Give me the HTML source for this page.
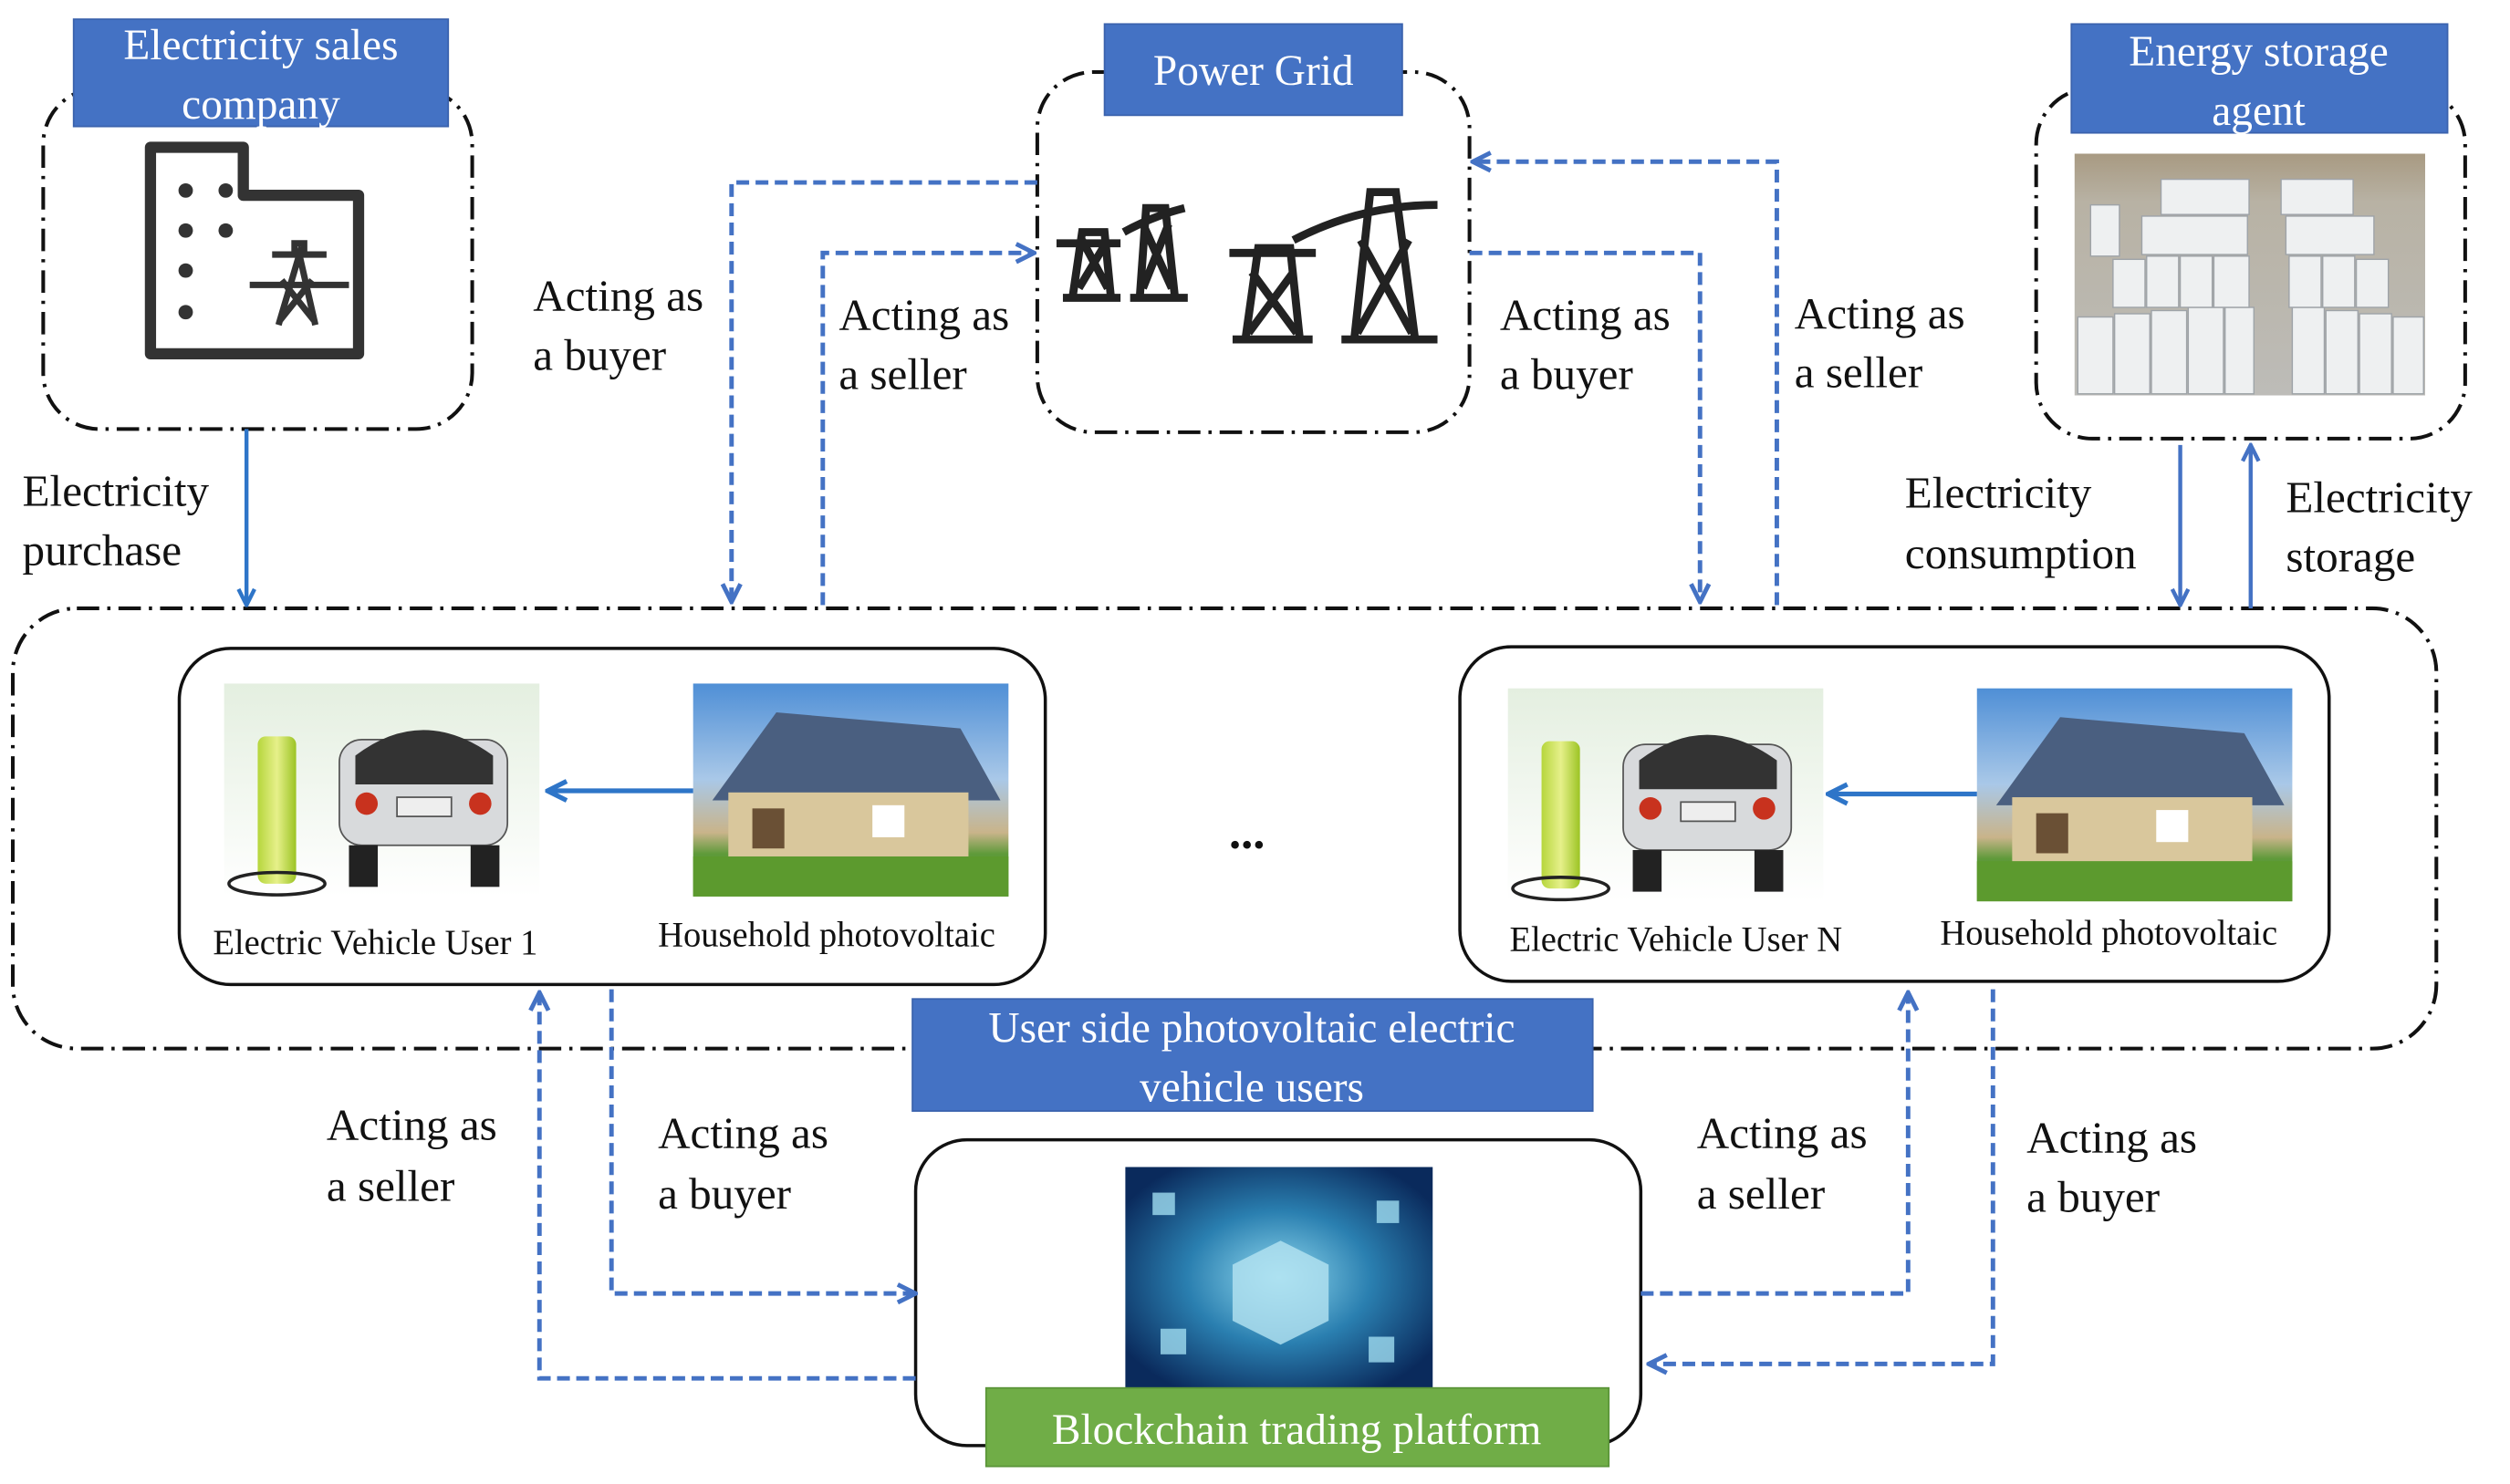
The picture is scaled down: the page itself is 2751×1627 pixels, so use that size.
<!DOCTYPE html>
<html><head><meta charset="utf-8"><style>
html,body{margin:0;padding:0;background:#fff;}
svg{display:block;font-family:"Liberation Serif","Times New Roman",serif;}
svg text{font-family:"Liberation Serif","Times New Roman",serif;}
</style></head><body>
<svg width="2751" height="1627" viewBox="0 0 1568 927" preserveAspectRatio="none" xmlns="http://www.w3.org/2000/svg" font-family="Liberation Serif, serif">
<defs>
<linearGradient id="evbg" x1="0" y1="0" x2="0" y2="1"><stop offset="0" stop-color="#e4efe0"/><stop offset="1" stop-color="#ffffff"/></linearGradient>
<linearGradient id="sky" x1="0" y1="0" x2="0" y2="1"><stop offset="0" stop-color="#4f8fd6"/><stop offset="0.45" stop-color="#a9c8e8"/><stop offset="0.7" stop-color="#c9b48a"/><stop offset="0.8" stop-color="#5f9a3a"/><stop offset="1" stop-color="#4f8f2a"/></linearGradient>
<linearGradient id="bat" x1="0" y1="0" x2="1" y2="0"><stop offset="0" stop-color="#b6d63c"/><stop offset="0.5" stop-color="#e6f08a"/><stop offset="1" stop-color="#9cc424"/></linearGradient>
<linearGradient id="store" x1="0" y1="0" x2="0" y2="1"><stop offset="0" stop-color="#a89a82"/><stop offset="0.2" stop-color="#b8b2a4"/><stop offset="1" stop-color="#bdbcb8"/></linearGradient>
<radialGradient id="bc" cx="0.5" cy="0.5" r="0.6"><stop offset="0" stop-color="#8fd8ee"/><stop offset="0.5" stop-color="#2a7fb0"/><stop offset="1" stop-color="#0a2a5c"/></radialGradient>
<marker id="ah" viewBox="0 0 10 10" refX="9" refY="5" markerWidth="5" markerHeight="5" orient="auto-start-reverse"><path d="M1,1 L9,5 L1,9" fill="none" stroke="#4472c4" stroke-width="2"/></marker>
<marker id="ahs" viewBox="0 0 10 10" refX="9" refY="5" markerWidth="5" markerHeight="5" orient="auto-start-reverse"><path d="M1,1 L9,5 L1,9" fill="none" stroke="#2e75c8" stroke-width="2"/></marker>
</defs>

<g fill="none" stroke="#111" stroke-width="2.3" stroke-dasharray="14 5 2 5">
<rect x="27" y="55" width="268" height="213" rx="35"/>
<rect x="648" y="45" width="270" height="225" rx="35"/>
<rect x="1272" y="55" width="268" height="219" rx="35"/>
<rect x="8" y="380" width="1514" height="275" rx="40"/>
</g>

<g fill="#fff" stroke="#111" stroke-width="2">
<rect x="112" y="405" width="541" height="210" rx="32"/>
<rect x="912" y="404" width="543" height="209" rx="32"/>
<rect x="572" y="712" width="453" height="191" rx="32"/>
</g>

<rect x="46" y="12" width="234" height="67" fill="#4472c4" stroke="#3a62ad"/>
<text x="163" y="37" font-size="27" fill="#fff" text-anchor="middle">Electricity sales</text>
<text x="163" y="74" font-size="27" fill="#fff" text-anchor="middle">company</text>
<rect x="690" y="15" width="186" height="57" fill="#4472c4" stroke="#3a62ad"/>
<text x="783" y="53" font-size="27" fill="#fff" text-anchor="middle">Power Grid</text>
<rect x="1294" y="15" width="235" height="68" fill="#4472c4" stroke="#3a62ad"/>
<text x="1411" y="41" font-size="27" fill="#fff" text-anchor="middle">Energy storage</text>
<text x="1411" y="78" font-size="27" fill="#fff" text-anchor="middle">agent</text>
<rect x="570" y="624" width="425" height="70" fill="#4472c4" stroke="#3a62ad"/>
<text x="782" y="651" font-size="27" fill="#fff" text-anchor="middle">User side photovoltaic electric</text>
<text x="782" y="688" font-size="27" fill="#fff" text-anchor="middle">vehicle users</text>

<g fill="none" stroke="#333" stroke-width="7" stroke-linejoin="round">
<path d="M94,92 H152 V122 H224 V221 H94 Z"/>
</g>
<g fill="#333"><circle cx="116" cy="119" r="4.5"/><circle cx="141" cy="119" r="4.5"/><circle cx="116" cy="144" r="4.5"/><circle cx="141" cy="144" r="4.5"/><circle cx="116" cy="169" r="4.5"/><circle cx="116" cy="195" r="4.5"/></g>
<g fill="none" stroke="#333" stroke-width="4"><path d="M170,159 H204 M156,178 H218 M174,203 L187,159 L197,203 M175,200 L195,175 M196,200 L176,175 M184,159 V152 H190 V159"/></g>

<g fill="none" stroke="#222" stroke-width="5">
<path d="M664,186 H700 M670,186 L676,145 H690 L694,186 M676,150 L692,180 M692,150 L674,180 M660,152 H700 M706,186 H742 M712,186 L716,130 H728 L734,186 M714,140 L732,180 M730,140 L714,180 M702,145 Q720,135 740,130"/>
<path d="M770,212 H820 M778,212 L786,155 H806 L812,212 M782,170 L810,208 M808,170 L780,208 M768,158 H822 M838,212 H898 M846,212 L856,120 H872 L884,212 M850,150 L882,208 M880,150 L848,208 M808,150 Q850,128 898,128"/>
</g>

<rect x="1296" y="96" width="219" height="151" fill="url(#store)"/>
<g fill="#eef0f1" stroke="#9ea3a8" stroke-width="0.8">
<rect x="1298" y="198" width="22" height="48"/><rect x="1321" y="196" width="22" height="50"/><rect x="1344" y="194" width="22" height="52"/><rect x="1367" y="192" width="22" height="54"/><rect x="1390" y="192" width="18" height="54"/>
<rect x="1432" y="192" width="20" height="54"/><rect x="1453" y="194" width="20" height="52"/><rect x="1474" y="196" width="20" height="50"/><rect x="1495" y="198" width="19" height="48"/>
<rect x="1320" y="162" width="20" height="30"/><rect x="1341" y="160" width="20" height="32"/><rect x="1362" y="160" width="20" height="32"/><rect x="1383" y="160" width="22" height="32"/>
<rect x="1430" y="160" width="20" height="32"/><rect x="1451" y="160" width="20" height="32"/><rect x="1472" y="162" width="20" height="30"/>
<rect x="1338" y="135" width="66" height="24"/><rect x="1428" y="135" width="55" height="24"/>
<rect x="1350" y="112" width="55" height="22"/><rect x="1425" y="112" width="45" height="22"/>
<rect x="1306" y="128" width="18" height="32"/>
</g>

<g id="ev1">
<rect x="140" y="427" width="197" height="133" fill="url(#evbg)"/>
<rect x="161" y="460" width="24" height="92" rx="5" fill="url(#bat)"/>
<ellipse cx="173" cy="552" rx="30" ry="7" fill="none" stroke="#222" stroke-width="2"/>
<rect x="212" y="462" width="105" height="66" rx="14" fill="#d8dadc" stroke="#555" stroke-width="1"/>
<path d="M222,472 Q264,440 308,472 V490 H222 Z" fill="#333"/>
<rect x="248" y="498" width="34" height="12" fill="#eee" stroke="#555"/>
<circle cx="229" cy="502" r="7" fill="#c8321e"/><circle cx="300" cy="502" r="7" fill="#c8321e"/>
<rect x="218" y="528" width="18" height="26" fill="#222"/><rect x="294" y="528" width="18" height="26" fill="#222"/>
</g>
<use href="#ev1" x="802" y="3"/>
<g id="h1">
<rect x="433" y="427" width="197" height="133" fill="url(#sky)"/>
<path d="M445,500 L485,445 L600,455 L625,500 Z" fill="#4a5f80"/>
<rect x="455" y="495" width="150" height="40" fill="#d9c79c"/>
<rect x="470" y="505" width="20" height="25" fill="#6a5035"/><rect x="545" y="503" width="20" height="20" fill="#fff"/>
<rect x="433" y="535" width="197" height="25" fill="#5c9a2e"/>
</g>
<use href="#h1" x="802" y="3"/>

<line x1="433" y1="494" x2="342" y2="494" stroke="#2e75c8" stroke-width="3" marker-end="url(#ahs)"/>
<line x1="1235" y1="496" x2="1142" y2="496" stroke="#2e75c8" stroke-width="3" marker-end="url(#ahs)"/>

<text x="133" y="596" font-size="22" fill="#111">Electric Vehicle User 1</text>
<text x="411" y="591" font-size="22" fill="#111">Household photovoltaic</text>
<text x="943" y="594" font-size="22" fill="#111">Electric Vehicle User N</text>
<text x="1212" y="590" font-size="22" fill="#111">Household photovoltaic</text>
<text x="779" y="530" font-size="30" font-weight="bold" fill="#111" text-anchor="middle">...</text>

<rect x="703" y="729" width="192" height="138" fill="url(#bc)"/>
<g fill="#9fdcf0" opacity="0.8"><rect x="720" y="745" width="14" height="14"/><rect x="860" y="750" width="14" height="14"/><rect x="725" y="830" width="16" height="16"/><rect x="855" y="835" width="16" height="16"/><path d="M770,790 L800,775 L830,790 L830,825 L800,840 L770,825 Z" fill="#b5e4f2"/></g>
<rect x="616" y="867" width="389" height="49" fill="#70ad47" stroke="#5a9438"/>
<text x="810" y="902" font-size="27" fill="#fff" text-anchor="middle">Blockchain trading platform</text>

<line x1="154" y1="268" x2="154" y2="378" stroke="#2e75c8" stroke-width="2.5" marker-end="url(#ahs)"/>
<line x1="1362" y1="278" x2="1362" y2="378" stroke="#4472c4" stroke-width="2.5" marker-end="url(#ah)"/>
<line x1="1406" y1="380" x2="1406" y2="278" stroke="#4472c4" stroke-width="2.5" marker-end="url(#ah)"/>

<g fill="none" stroke="#4472c4" stroke-width="2.8" stroke-dasharray="8 4">
<path d="M648,114 H457 V376" marker-end="url(#ah)"/>
<path d="M514,378 V158 H646" marker-end="url(#ah)"/>
<path d="M918,158 H1062 V376" marker-end="url(#ah)"/>
<path d="M1110,378 V101 H920" marker-end="url(#ah)"/>
<path d="M572,861 H337 V620" marker-end="url(#ah)"/>
<path d="M382,618 V808 H572" marker-end="url(#ah)"/>
<path d="M1025,808 H1192 V620" marker-end="url(#ah)"/>
<path d="M1245,618 V852 H1030" marker-end="url(#ah)"/>
</g>

<g font-size="28" fill="#111">
<text x="14" y="316">Electricity</text><text x="14" y="353">purchase</text>
<text x="333" y="194">Acting as</text><text x="333" y="231">a buyer</text>
<text x="524" y="206">Acting as</text><text x="524" y="243">a seller</text>
<text x="937" y="206">Acting as</text><text x="937" y="243">a buyer</text>
<text x="1121" y="205">Acting as</text><text x="1121" y="242">a seller</text>
<text x="1190" y="317">Electricity</text><text x="1190" y="355">consumption</text>
<text x="1428" y="320">Electricity</text><text x="1428" y="357">storage</text>
<text x="204" y="712">Acting as</text><text x="204" y="750">a seller</text>
<text x="411" y="717">Acting as</text><text x="411" y="755">a buyer</text>
<text x="1060" y="717">Acting as</text><text x="1060" y="755">a seller</text>
<text x="1266" y="720">Acting as</text><text x="1266" y="757">a buyer</text>
</g>
</svg>
</body></html>
